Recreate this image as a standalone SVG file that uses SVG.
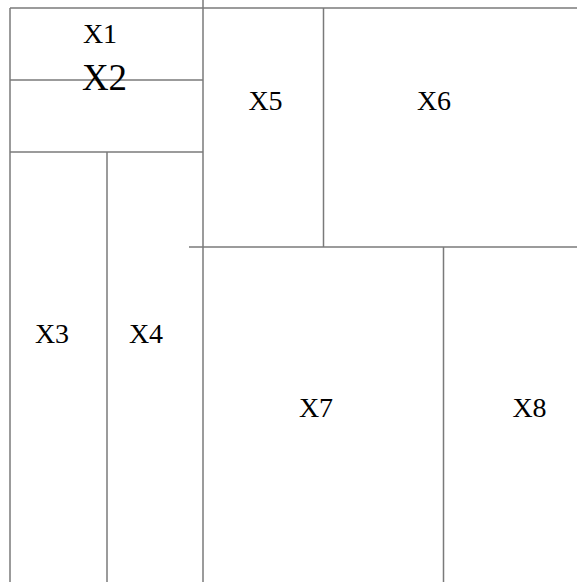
<svg xmlns="http://www.w3.org/2000/svg" width="577" height="582" viewBox="0 0 577 582">
<style>
.ln{stroke:#7a7a7a;stroke-width:1.5;fill:none}
text{font-family:'Liberation Serif','DejaVu Serif',serif;font-size:28px;fill:#000;text-anchor:middle}
.big{font-size:37px}
</style>
<rect width="577" height="582" fill="#fff"/>
<g id="connectors">
<line class="ln" x1="10" y1="8" x2="577" y2="8"/>
<line class="ln" x1="10" y1="8" x2="10" y2="582"/>
<line class="ln" x1="10" y1="80" x2="203" y2="80"/>
<line class="ln" x1="10" y1="152" x2="203" y2="152"/>
<line class="ln" x1="107" y1="152" x2="107" y2="582"/>
<line class="ln" x1="203" y1="0" x2="203" y2="582"/>
<line class="ln" x1="323.5" y1="8" x2="323.5" y2="247"/>
<line class="ln" x1="189" y1="247" x2="577" y2="247"/>
<line class="ln" x1="443.5" y1="247" x2="443.5" y2="582"/>
</g>
<g id="X1"><text font-family="Liberation Serif, serif" x="100" y="43">X1</text></g>
<g id="X2"><text class="big" font-family="Liberation Serif, serif" x="104.5" y="90">X2</text></g>
<g id="X3"><text font-family="Liberation Serif, serif" x="52" y="343">X3</text></g>
<g id="X4"><text font-family="Liberation Serif, serif" x="146" y="343">X4</text></g>
<g id="X5"><text font-family="Liberation Serif, serif" x="265.5" y="110">X5</text></g>
<g id="X6"><text font-family="Liberation Serif, serif" x="434" y="110">X6</text></g>
<g id="X7"><text font-family="Liberation Serif, serif" x="316" y="417">X7</text></g>
<g id="X8"><text font-family="Liberation Serif, serif" x="529.5" y="417">X8</text></g>
</svg>
